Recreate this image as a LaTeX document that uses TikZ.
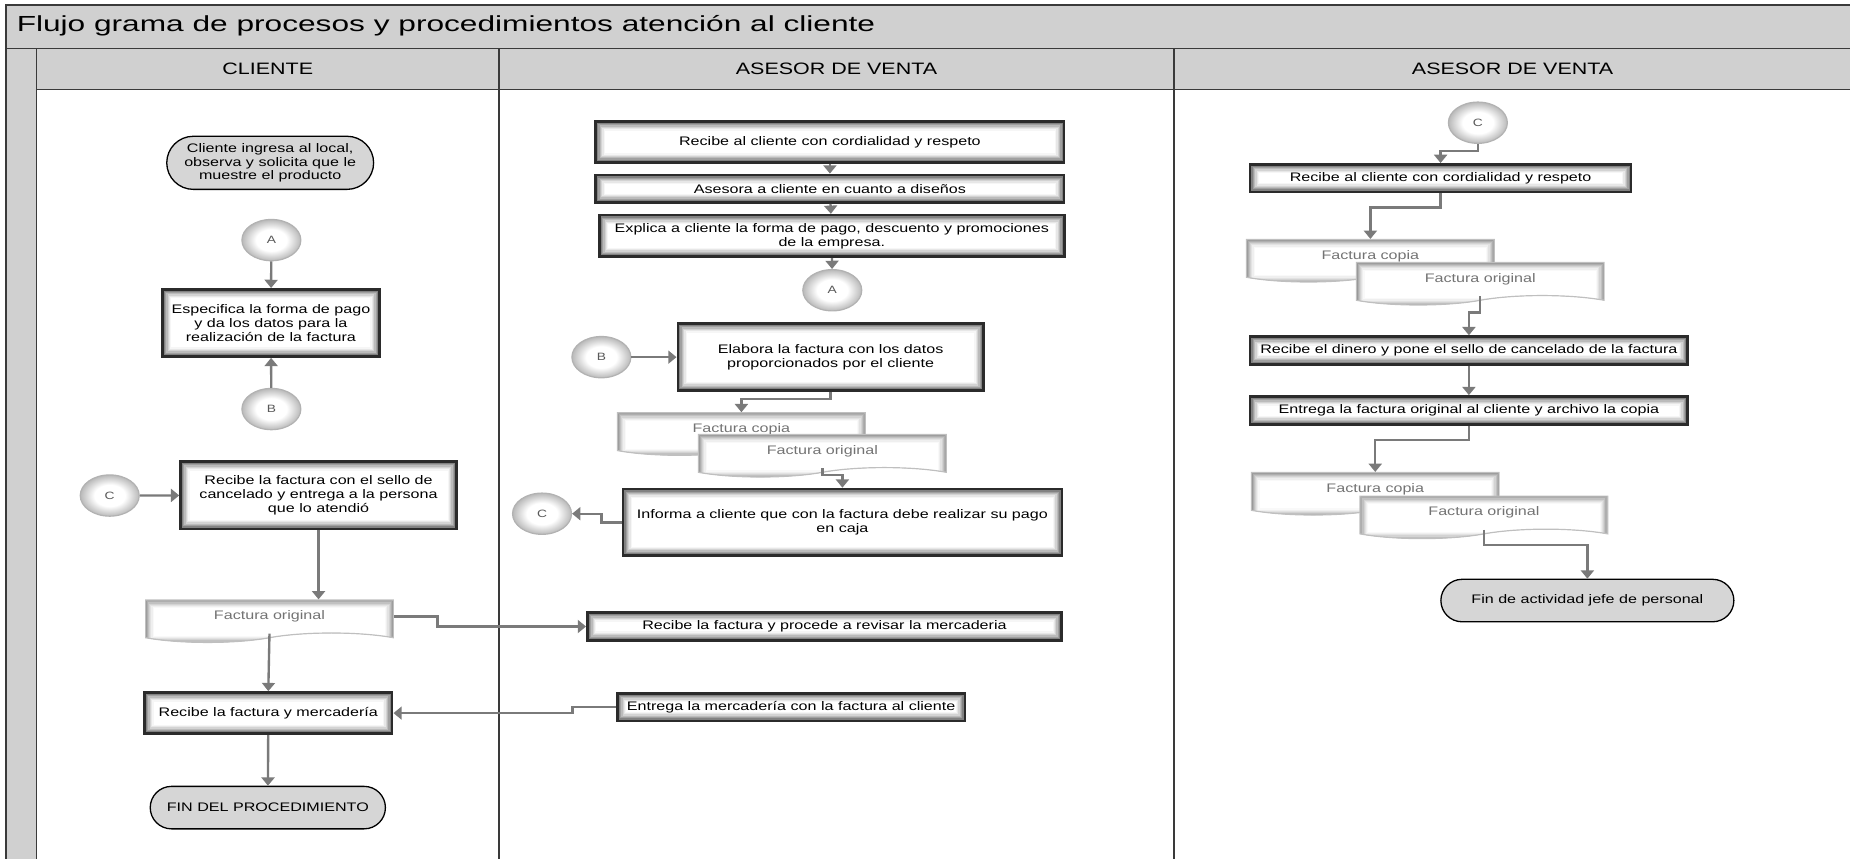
\documentclass[tikz,border=0pt]{standalone}
\usepackage{fontspec}
\setmainfont{Liberation Sans}[FakeStretch=1.3]
\newfontfamily\fuentetitulo{Liberation Sans}[FakeStretch=1.45]
\usepackage{xcolor}
\usepackage{tikz}
\usetikzlibrary{arrows.meta,shapes.geometric,shapes.misc,shapes.symbols}
\definecolor{encabezado}{HTML}{D0D0D0}
\definecolor{linea}{HTML}{3A3A3A}
\definecolor{borde}{HTML}{2B2B2B}
\definecolor{flechas}{HTML}{7A7A7A}
\definecolor{fondofin}{HTML}{D6D6D6}
\pgfdeclareradialshading{bola}{\pgfpoint{0bp}{0bp}}{color(0bp)=(white); color(13bp)=(white); color(25bp)=(gray!55); color(50bp)=(gray!55)}
\newcommand{\cuerpo}{\fontsize{10.5}{11.8}\selectfont}
\newcommand{\brillo}[2]{%
  \foreach \i in {0,...,7}{
    \pgfmathsetmacro{\tono}{#2*(1-\i/7)^1.5}
    \fill[black!\tono] ([shift={(\i*#1,-\i*#1)}]path picture bounding box.north west)
      rectangle ([shift={(-\i*#1,\i*#1)}]path picture bounding box.south east);
  }}
\tikzset{
  marco/.style={draw=linea, line width=1.4pt},
  titulo/.style={font=\fuentetitulo\fontsize{18.5}{22}\selectfont, anchor=west, inner sep=0pt},
  colum/.style={font=\fontsize{14}{16}\selectfont, inner sep=0pt},
  proceso/.style={draw=borde, line width=2.2pt, align=center, font=\cuerpo, inner sep=2pt,
    path picture={\brillo{1.1pt}{62}}},
  documento/.style={shape=tape, tape bend top=none, tape bend bottom=in and out,
    tape bend height=8pt, draw=gray!50, line width=1pt, minimum width=210pt,
    minimum height=36pt, text=black!55, font=\cuerpo, inner sep=1pt,
    path picture={\brillo{1pt}{40}}},
  conector/.style={ellipse, draw=gray!60, line width=1pt, minimum width=50pt,
    minimum height=35pt, shading=bola,
    text=black!65, font=\fontsize{9}{10}\selectfont},
  terminal/.style={rounded rectangle, draw=black, line width=1.1pt, fill=fondofin,
    align=center, font=\cuerpo},
  flecha/.style={draw=flechas, line width=2pt, -{Triangle[width=11pt,length=7pt]}}
}
\begin{document}
\begin{tikzpicture}[x=1pt,y=-1pt]
\useasboundingbox (0,0) rectangle (1568,728);
\fill[encabezado] (5,4) rectangle (1568,76);
\fill[encabezado] (5,41) rectangle (31,728);
\draw[marco] (5,728) -- (5,4) -- (1568,4);
\draw[marco] (5,41) -- (1568,41);
\draw[marco] (31,76) -- (1568,76);
\draw[marco] (31,41) -- (31,728);
\draw[marco] (423,41) -- (423,728);
\draw[marco] (995,41) -- (995,728);
\node[titulo] (tit) at (14,22) {Flujo grama de procesos y procedimientos atención al cliente};
\node[colum] (hcli) at (227,58.5) {CLIENTE};
\node[colum] (hase) at (709,58.5) {ASESOR DE VENTA};
\node[colum] (hcaj) at (1282,58.5) {ASESOR DE VENTA};

% cliente
\node[terminal, minimum width=182pt, minimum height=45pt] (ini) at (229,138) {Cliente ingresa al local,\\ observa y solicita que le\\ muestre el producto};
\node[conector] (a1) at (230,203.5) {A};
\node[proceso, minimum width=184pt, minimum height=57pt] (esp) at (229.6,273.7) {Especifica la forma de pago\\ y da los datos para la\\ realización de la factura};
\node[conector] (b1) at (230,346.7) {B};
\node[conector] (c1) at (93,420) {C};
\node[proceso, minimum width=234pt, minimum height=57pt] (rsel) at (270,419.7) {Recibe la factura con el sello de\\ cancelado y entrega a la persona\\ que lo atendió};
\node[documento, anchor=north] (fo1) at (228.4,508) {Factura original};
\node[proceso, minimum width=210pt, minimum height=35pt] (rfm) at (227.4,604.4) {Recibe la factura y mercadería};
\node[terminal, minimum width=206pt, minimum height=36pt] (fin1) at (227,684.5) {FIN DEL PROCEDIMIENTO};

% asesor de venta
\node[proceso, minimum width=397pt, minimum height=34.6pt] (rcc) at (703.4,120.3) {Recibe al cliente con cordialidad y respeto};
\node[proceso, minimum width=397pt, minimum height=23.5pt] (ase) at (703.4,160) {Asesora a cliente en cuanto a diseños};
\node[proceso, minimum width=394pt, minimum height=35.3pt] (expl) at (705,200) {Explica a cliente la forma de pago, descuento y promociones\\ de la empresa.};
\node[conector] (a2) at (705.4,246) {A};
\node[conector] (b2) at (509.7,302.7) {B};
\node[proceso, minimum width=259pt, minimum height=57pt] (elab) at (704,302.7) {Elabora la factura con los datos\\ proporcionados por el cliente};
\node[documento, anchor=north] (fc2) at (628.4,349.4) {Factura copia};
\node[documento, anchor=north] (fo2) at (697,367.8) {Factura original};
\node[proceso, minimum width=372pt, minimum height=56.5pt] (inf) at (714,442.7) {Informa a cliente que con la factura debe realizar su pago\\ en caja};
\node[conector] (c2) at (459.4,435.4) {C};
\node[proceso, minimum width=402pt, minimum height=23.7pt] (rev) at (698.8,531) {Recibe la factura y procede a revisar la mercaderia};
\node[proceso, minimum width=294.5pt, minimum height=23.5pt] (ent) at (670.5,599.3) {Entrega la mercadería con la factura al cliente};

% asesor de venta (caja)
\node[conector] (c3) at (1252.6,104) {C};
\node[proceso, minimum width=323pt, minimum height=23.5pt] (rcc3) at (1221,151) {Recibe al cliente con cordialidad y respeto};
\node[documento, anchor=north] (fc3) at (1161.5,202.5) {Factura copia};
\node[documento, anchor=north] (fo3) at (1254.6,222) {Factura original};
\node[proceso, minimum width=371pt, minimum height=23.5pt] (din) at (1245,297) {Recibe el dinero y pone el sello de cancelado de la factura};
\node[proceso, minimum width=371pt, minimum height=24pt] (efo) at (1245,348) {Entrega la factura original al cliente y archivo la copia};
\node[documento, anchor=north] (fc4) at (1165.6,400) {Factura copia};
\node[documento, anchor=north] (fo4) at (1257.7,420) {Factura original};
\node[terminal, minimum width=255pt, minimum height=36pt] (fin3) at (1345.4,509) {Fin de actividad jefe de personal};

% conexiones
\draw[flecha] (a1) -- (esp);
\draw[flecha] (b1) -- (esp);
\draw[flecha] (c1) -- (rsel);
\draw[flecha] (rsel.south) -- (rsel.south |- fo1.north);
\draw[flecha] (fo1.south) -- (rfm.north);
\draw[flecha] (fo1.east) -- ++(37,0) |- (rev.west);
\draw[flecha] (ent.west) -- ++(-37,0) |- (rfm.east);
\draw[flecha] (rfm) -- (fin1);
\draw[flecha] (rcc) -- (ase);
\draw[flecha] (ase) -- (expl);
\draw[flecha] (expl) -- (a2);
\draw[flecha] (b2) -- (elab);
\draw[flecha] (elab.south) -- ++(0,6) -| (fc2.north);
\draw[flecha] (fo2.south) -- ++(0,6) -| (inf.north);
\draw[flecha] (inf.west) -- ++(-17,0) |- (c2.east);
\draw[flecha] (c3.south) -- ++(0,6) -| (rcc3.north);
\draw[flecha] (rcc3.south) -- ++(0,12) -| (fc3.north);
\draw[flecha] (fo3.south) -- ++(0,14) -| (din.north);
\draw[flecha] (din) -- (efo);
\draw[flecha] (efo.south) -- ++(0,12) -| (fc4.north);
\draw[flecha] (fo4.south) -- ++(0,13) -| (fin3.north);
\end{tikzpicture}
\end{document}
